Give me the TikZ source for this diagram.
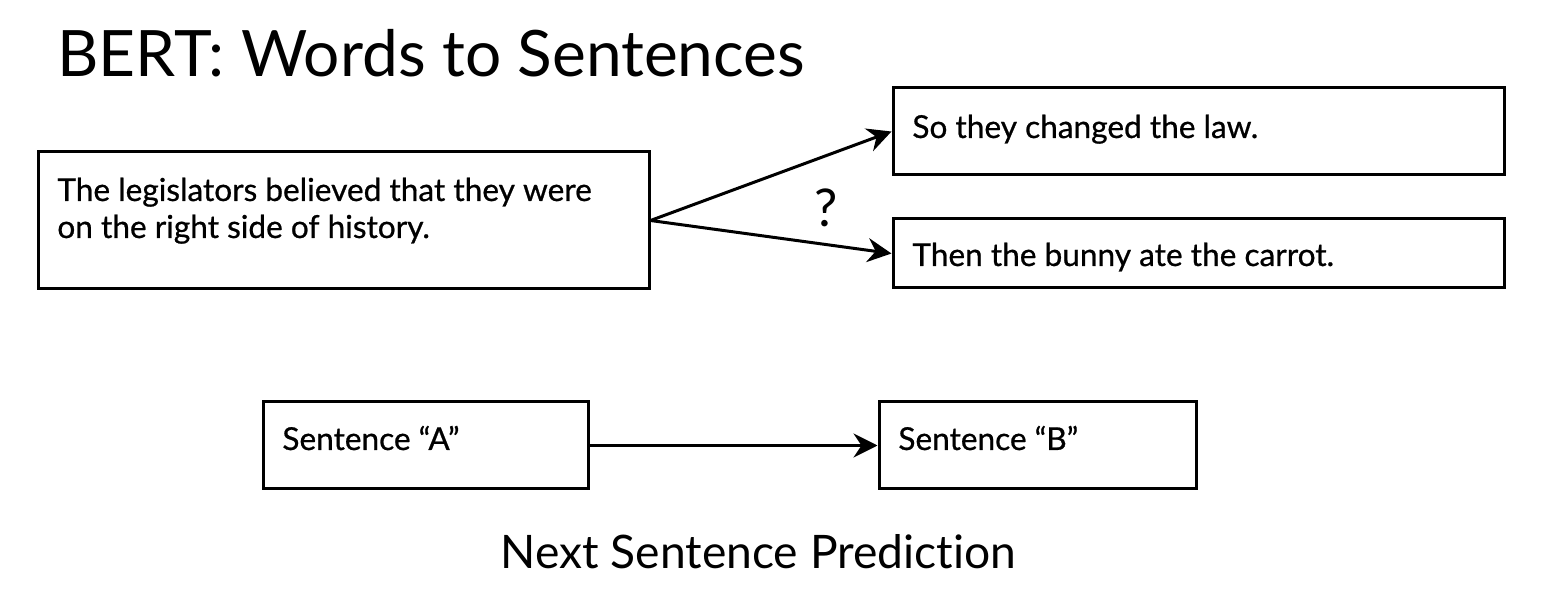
\documentclass[tikz,border=0pt]{standalone}
\usepackage{fontspec}
\setmainfont{Lato}[Ligatures=NoCommon]
\newfontfamily\boxfont{Lato}[Ligatures=NoCommon, FakeBold=0.7]
\usetikzlibrary{arrows.meta}
\tikzset{
  box/.style={draw=black, line width=1.5pt, inner sep=0pt, fill=white},
  boxtext/.style={anchor=base west, inner sep=0pt, align=left, font=\boxfont\fontsize{15.8}{18.5}\selectfont},
  conn/.style={line width=1.5pt, -{Stealth[length=12pt,width=12pt,inset=4pt]}},
}
\begin{document}
\begin{tikzpicture}[x=0.5pt,y=-0.5pt]
\path[use as bounding box, fill=white] (0,0) rectangle (1560,609);
\node[anchor=base west, inner sep=0pt, font=\fontsize{32}{40}\selectfont] (title) at (57,77) {BERT: Words to Sentences};
\node[box, minimum width=305.5pt, minimum height=68.5pt] (L) at (343.5,220.5) {};
\node[box, minimum width=305.5pt, minimum height=43.5pt] (TR) at (1198.5,131.5) {};
\node[box, minimum width=305.5pt, minimum height=34.5pt] (BR) at (1198.5,253.5) {};
\node[box, minimum width=162.5pt, minimum height=43.5pt] (A) at (425.5,445.5) {};
\node[box, minimum width=158.5pt, minimum height=43.5pt] (B) at (1037.5,445.5) {};
\node[boxtext] (Lt) at (57,238) {The legislators believed that they were\\on the right side of history.};
\node[boxtext] (TRt) at (912,138) {So they changed the law.};
\node[boxtext] (BRt) at (912,266) {Then the bunny ate the carrot.};
\node[boxtext] (At) at (282,450) {Sentence “A”};
\node[boxtext] (Bt) at (898,450) {Sentence “B”};
\node[anchor=base, inner sep=0pt, font=\fontsize{26}{30}\selectfont] (q) at (826,227) {?};
\node[anchor=base, inner sep=0pt, font=\fontsize{23.1}{30}\selectfont] (nsp) at (758.5,568) {Next Sentence Prediction};
\draw[conn] (L.east) -- (TR.west);
\draw[conn] (L.east) -- (BR.west);
\draw[conn] (A.east) -- (B.west);
\end{tikzpicture}
\end{document}
